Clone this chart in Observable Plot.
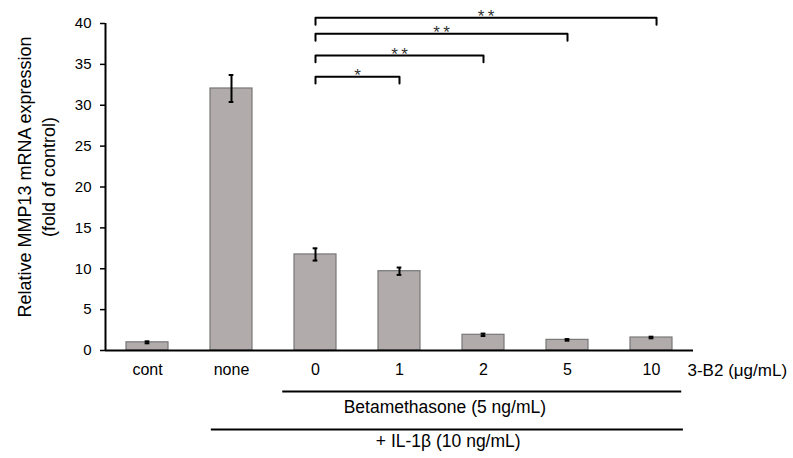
<!DOCTYPE html>
<html>
<head>
<meta charset="utf-8">
<script src="https://cdn.jsdelivr.net/npm/d3@7"></script>
<script src="https://cdn.jsdelivr.net/npm/@observablehq/plot@0.6"></script>
<style>
  html, body { margin: 0; padding: 0; background: #fff; }
  #chart svg { display: block; }
</style>
</head>
<body>
<div id="chart"></div>
<script>
// ---- data ----
const categories = ["cont", "none", "0", "1", "2", "5", "10"];
const values = [1.0, 32.05, 11.75, 9.7, 1.92, 1.3, 1.59];
const errors = [0.12, 1.65, 0.75, 0.45, 0.15, 0.1, 0.1];
const yTicks = [0, 5, 10, 15, 20, 25, 30, 35, 40];

// significance brackets (category indices)
const bracketFrom = [2, 2, 2, 2];
const bracketTo = [3, 4, 5, 6.06];
const bracketLevel = [33.5, 36.1, 38.75, 40.7];
const bracketLabel = ["*", "**", "**", "**"];

// treatment group lines under the axis (in category index units)
const groupFrom = [1.61, 0.76];
const groupTo = [6.36, 6.38];
const groupLabel = ["Betamethasone (5 ng/mL)", "+ IL-1\u03b2 (10 ng/mL)"];
const groupLabelAt = [3.54, 3.58];

const doseLabel = "3-B2 (\u03bcg/mL)";
const yTitle = "Relative MMP13 mRNA expression\n(fold of control)";

// ---- tables ----
const bars = categories.map((c, i) => ({i, c, v: values[i], e: errors[i]}));
const bracketPts = [];
bracketFrom.forEach((f, k) => {
  const t = bracketTo[k], L = bracketLevel[k], d = 0.85;
  bracketPts.push({k, x: f, y: L - d}, {k, x: f, y: L}, {k, x: t, y: L}, {k, x: t, y: L - d});
});
const brackets = bracketFrom.map((f, k) => ({x: (f + bracketTo[k]) / 2, y: bracketLevel[k], t: bracketLabel[k]}));

const font = "Liberation Sans, Arial, Helvetica, sans-serif";
const hw = 0.25, cap = 0.028;

const chart = Plot.plot({
  width: 793,
  height: 458,
  marginLeft: 105,
  marginRight: 100,
  marginTop: 23,
  marginBottom: 108,
  style: {fontFamily: font, fontSize: "15px", color: "#000", background: "#fff"},
  x: {type: "linear", domain: [-0.5, 6.5], axis: null},
  y: {domain: [0, 40], axis: null},
  marks: [
    // bars
    Plot.rectY(bars, {x1: d => d.i - hw, x2: d => d.i + hw, y1: 0, y2: "v", fill: "#b1abab", stroke: "#777", strokeWidth: 1.2}),
    // error bars
    Plot.ruleX(bars, {x: "i", y1: d => d.v - d.e, y2: d => d.v + d.e, stroke: "#000", strokeWidth: 2}),
    Plot.ruleY(bars, {y: d => d.v + d.e, x1: d => d.i - cap, x2: d => d.i + cap, stroke: "#000", strokeWidth: 2}),
    Plot.ruleY(bars, {y: d => d.v - d.e, x1: d => d.i - cap, x2: d => d.i + cap, stroke: "#000", strokeWidth: 2}),
    // y axis
    Plot.axisY({ticks: yTicks, tickSize: 5, tickPadding: 9, fontSize: 15, stroke: "#000", strokeWidth: 1.5, label: null}),
    Plot.ruleX([-0.5], {y1: 0, y2: 40, stroke: "#000", strokeWidth: 2}),
    // x axis line
    Plot.ruleY([0], {x1: -0.5, x2: 6.5, stroke: "#000", strokeWidth: 2}),
    // x tick labels
    Plot.axisX({ticks: categories.map((c, i) => i), tickFormat: i => categories[i], tickSize: 0, tickPadding: 13, fontSize: 16, label: null}),
    Plot.text([doseLabel], {x: 6.5, y: 0, text: d => d, textAnchor: "start", dx: -6, dy: 20, fontSize: 17, fill: "#000"}),
    // group lines and labels
    Plot.ruleY([0], {x1: groupFrom[0], x2: groupTo[0], dy: 41, stroke: "#000", strokeWidth: 2}),
    Plot.ruleY([0], {x1: groupFrom[1], x2: groupTo[1], dy: 79, stroke: "#000", strokeWidth: 2}),
    Plot.text([groupLabel[0]], {x: groupLabelAt[0], y: 0, text: d => d, dy: 57, fontSize: 17.5, fill: "#000"}),
    Plot.text([groupLabel[1]], {x: groupLabelAt[1], y: 0, text: d => d, dy: 91, fontSize: 17.5, fill: "#000"}),
    // significance brackets
    Plot.line(bracketPts, {x: "x", y: "y", z: "k", stroke: "#000", strokeWidth: 2, curve: "linear"}),
    Plot.text(brackets, {x: "x", y: "y", text: d => d.t.split("").join("\u2009"), dy: -1, lineAnchor: "middle", fontSize: 17, fill: "#333"}),
    // y title
    Plot.text([yTitle], {frameAnchor: "left", textAnchor: "middle", text: d => d, rotate: -90, dx: -70, dy: -10, fontSize: 18, lineHeight: 1.33, fill: "#000"})
  ]
});
document.getElementById("chart").appendChild(chart);
</script>
</body>
</html>
